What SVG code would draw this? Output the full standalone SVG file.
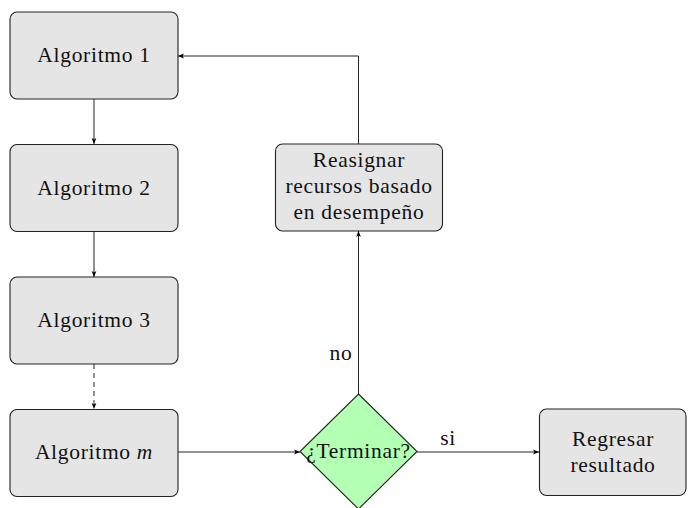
<svg xmlns="http://www.w3.org/2000/svg" width="696" height="508" viewBox="0 0 696 508">
  <defs>
    <marker id="arrow" viewBox="0 0 10 10" refX="10" refY="5" markerWidth="6" markerHeight="6" markerUnits="userSpaceOnUse" orient="auto">
      <path d="M0,1 L10,5 L0,9 L2.5,5 Z" fill="#000"/>
    </marker>
    <style>
      .box { fill: #e5e5e5; stroke: #222; stroke-width: 1.1; }
      .dec { fill: #b3ffb3; stroke: #222; stroke-width: 1.1; }
      .lbl { font-family: "Liberation Serif", "DejaVu Serif", serif; font-size: 21.5px; letter-spacing: 0.7px; fill: #111; text-anchor: middle; }
      .edge { fill: none; stroke: #222; stroke-width: 1; marker-end: url(#arrow); }
      .dash { stroke-dasharray: 5 4; }
    </style>
  </defs>

  <g id="edges">
    <line class="edge" x1="94" y1="99" x2="94" y2="144"/>
    <line class="edge" x1="94" y1="232" x2="94" y2="277"/>
    <line class="edge dash" x1="94" y1="364" x2="94" y2="409"/>
    <line class="edge" x1="178" y1="452" x2="300" y2="452"/>
    <line class="edge" x1="417" y1="452" x2="539" y2="452"/>
    <line class="edge" x1="358.5" y1="394" x2="358.5" y2="231"/>
    <polyline class="edge" points="358.5,144 358.5,56 178,56"/>
    <text class="lbl" x="448" y="445">si</text>
    <text class="lbl" x="341" y="360">no</text>
  </g>

  <g id="alg1">
    <rect class="box" x="10" y="12" width="168" height="87" rx="7"/>
    <text class="lbl" x="94" y="62">Algoritmo 1</text>
  </g>
  <g id="alg2">
    <rect class="box" x="10" y="144.5" width="168" height="87" rx="7"/>
    <text class="lbl" x="94" y="194.5">Algoritmo 2</text>
  </g>
  <g id="alg3">
    <rect class="box" x="10" y="277" width="168" height="87" rx="7"/>
    <text class="lbl" x="94" y="327">Algoritmo 3</text>
  </g>
  <g id="algm">
    <rect class="box" x="10" y="409.5" width="168" height="87" rx="7"/>
    <text class="lbl" x="94" y="459">Algoritmo <tspan font-style="italic">m</tspan></text>
  </g>
  <g id="reasignar">
    <rect class="box" x="275.5" y="144" width="167" height="87" rx="7"/>
    <text class="lbl" x="359" y="167">Reasignar</text>
    <text class="lbl" x="359" y="193">recursos basado</text>
    <text class="lbl" x="359" y="219">en desempeño</text>
  </g>
  <g id="terminar">
    <polygon class="dec" points="358.5,394 417,451.5 358.5,509 300,451.5"/>
    <text class="lbl" x="358.5" y="458">¿Terminar?</text>
  </g>
  <g id="regresar">
    <rect class="box" x="539.5" y="409" width="146.5" height="86.5" rx="7"/>
    <text class="lbl" x="613" y="446">Regresar</text>
    <text class="lbl" x="613" y="472">resultado</text>
  </g>
</svg>
